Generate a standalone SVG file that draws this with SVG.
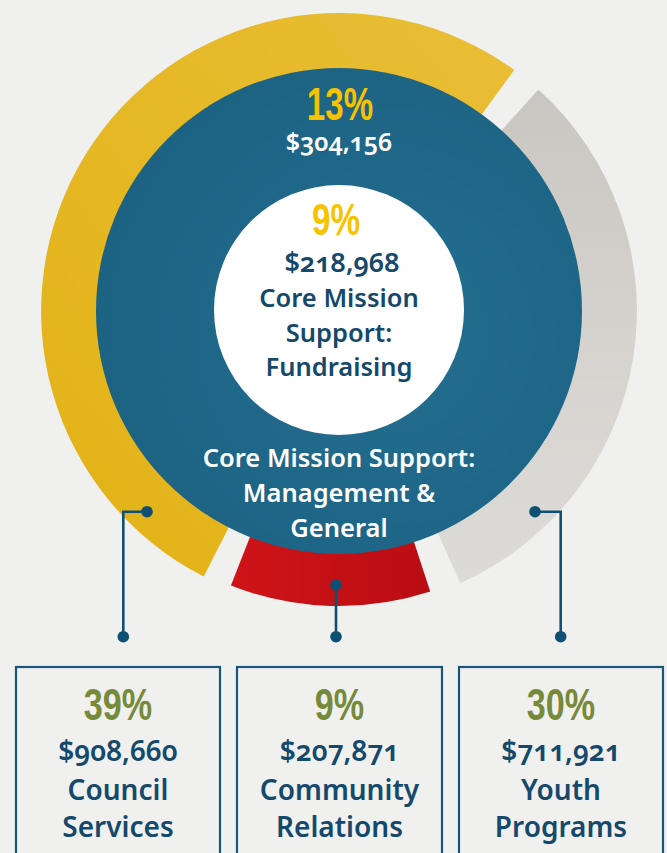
<svg xmlns="http://www.w3.org/2000/svg" width="667" height="853" viewBox="0 0 667 853">
<defs>
<style>
.pct{font-family:"Liberation Sans",Arial,sans-serif;font-weight:700;text-anchor:middle}
.txt{font-family:"Noto Sans","Open Sans",sans-serif;font-weight:600;text-anchor:middle;font-variant-numeric:oldstyle-nums}
.box{fill:none;stroke:#17587a;stroke-width:2.2}
.conn line,.conn polyline{stroke:#0f5072;stroke-width:2.6;fill:none}
.conn circle{fill:#0f5072}
</style>
<linearGradient id="gy" x1="0" y1="1" x2="1" y2="0">
<stop offset="0" stop-color="#e2b215"/>
<stop offset="1" stop-color="#e9be36"/>
</linearGradient>
<linearGradient id="gg" x1="0" y1="0" x2="0" y2="1">
<stop offset="0" stop-color="#c9c6c1"/>
<stop offset="0.5" stop-color="#d6d3cf"/>
<stop offset="1" stop-color="#dddbd7"/>
</linearGradient>
<linearGradient id="gr" x1="0" y1="0" x2="1" y2="0">
<stop offset="0" stop-color="#d01419"/>
<stop offset="1" stop-color="#b90d12"/>
</linearGradient>
<radialGradient id="gb" cx="0.6" cy="0.55" r="0.6">
<stop offset="0" stop-color="#236f90"/>
<stop offset="1" stop-color="#1c6283"/>
</radialGradient>
</defs>
<rect width="667" height="853" fill="#f0f0ef"/>
<g id="ring-council">
<path d="M 203.7 576.5 A 298 298 0 1 1 514.2 69.9 L 477.7 120.1 A 236 236 0 1 0 231.9 521.3 Z" fill="url(#gy)"/>
</g>
<g id="ring-youth">
<path d="M 538.4 89.6 A 298 298 0 0 1 460.2 583.2 L 435.0 526.6 A 236 236 0 0 0 496.9 135.6 Z" fill="url(#gg)"/>
</g>
<g id="ring-community">
<path d="M 430.2 591.6 A 295 295 0 0 1 230.9 585.5 L 252.5 530.6 A 236 236 0 0 0 411.9 535.5 Z" fill="url(#gr)"/>
</g>
<g id="management">
<circle cx="339" cy="311" r="243" fill="url(#gb)"/>
<text class="pct" transform="translate(340,120) scale(0.72,1)" font-size="46" fill="#f7c200">13%</text>
<text class="txt" x="339" y="151" font-size="25" fill="#ffffff">$304,156</text>
<text class="txt" x="339" y="467" font-size="25.5" fill="#ffffff">Core Mission Support:</text>
<text class="txt" x="339" y="502" font-size="25.5" fill="#ffffff">Management &amp;</text>
<text class="txt" x="339" y="537" font-size="25.5" fill="#ffffff">General</text>
</g>
<g id="fundraising">
<circle cx="339" cy="310" r="125" fill="#ffffff"/>
<text class="pct" transform="translate(336,235) scale(0.74,1)" font-size="45" fill="#f7c200">9%</text>
<text class="txt" x="342" y="272" font-size="27" fill="#15496b">$218,968</text>
<text class="txt" x="339" y="307" font-size="25.5" fill="#15496b">Core Mission</text>
<text class="txt" x="339" y="342" font-size="25.5" fill="#15496b">Support:</text>
<text class="txt" x="339" y="376" font-size="25.5" fill="#15496b">Fundraising</text>
</g>
<g class="conn" id="connectors">
<polyline points="147,511.7 123.3,511.7 123.3,636.7"/>
<circle cx="147" cy="511.7" r="5.8"/>
<circle cx="123.3" cy="636.7" r="5.8"/>
<line x1="336" y1="585" x2="336" y2="636.7"/>
<circle cx="336" cy="585" r="5.8"/>
<circle cx="336" cy="636.7" r="5.8"/>
<polyline points="535,511.7 560.7,511.7 560.7,636.7"/>
<circle cx="535" cy="511.7" r="5.8"/>
<circle cx="560.7" cy="636.7" r="5.8"/>
</g>
<g id="box-council">
<rect class="box" x="16" y="667" width="204" height="200"/>
<text class="pct" transform="translate(118,720) scale(0.76,1)" font-size="45" fill="#778a3a">39%</text>
<text class="txt" x="118" y="761" font-size="28" fill="#15496b">$908,660</text>
<text class="txt" x="118" y="800" font-size="28" fill="#15496b">Council</text>
<text class="txt" x="118" y="837" font-size="28" fill="#15496b">Services</text>
</g>
<g id="box-community">
<rect class="box" x="237" y="667" width="205" height="200"/>
<text class="pct" transform="translate(339.5,720) scale(0.76,1)" font-size="45" fill="#778a3a">9%</text>
<text class="txt" x="339.5" y="761" font-size="28" fill="#15496b">$207,871</text>
<text class="txt" x="339.5" y="800" font-size="28" fill="#15496b">Community</text>
<text class="txt" x="339.5" y="837" font-size="28" fill="#15496b">Relations</text>
</g>
<g id="box-youth">
<rect class="box" x="459" y="667" width="204" height="200"/>
<text class="pct" transform="translate(561,720) scale(0.76,1)" font-size="45" fill="#778a3a">30%</text>
<text class="txt" x="561" y="761" font-size="28" fill="#15496b">$711,921</text>
<text class="txt" x="561" y="800" font-size="28" fill="#15496b">Youth</text>
<text class="txt" x="561" y="837" font-size="28" fill="#15496b">Programs</text>
</g>
</svg>
